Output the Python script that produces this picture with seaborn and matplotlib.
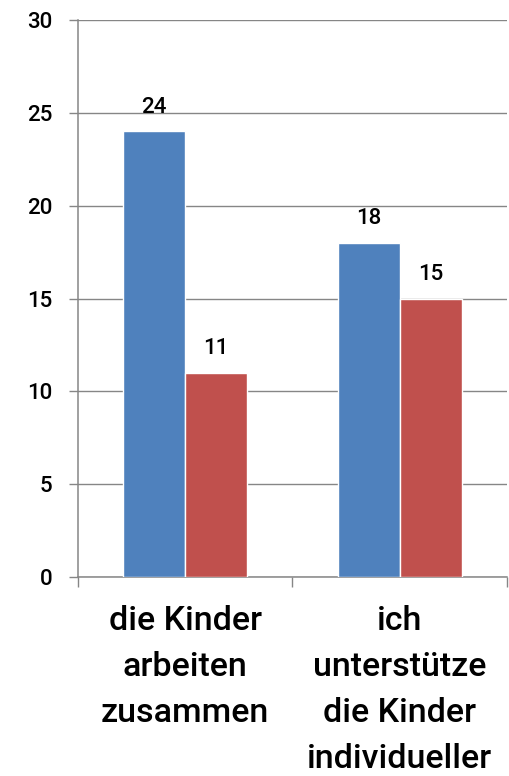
import pandas as pd
import matplotlib.pyplot as plt
import seaborn as sns

# Chart data
categories = ["die Kinder\narbeiten\nzusammen", "ich\nunterstütze\ndie Kinder\nindividueller"]
series_names = ["Reihe 1", "Reihe 2"]
series_1 = [24, 18]
series_2 = [11, 15]
y_ticks = [0, 5, 10, 15, 20, 25, 30]

colors = ["#4F81BD", "#C0504D"]
grey = "#868686"

df = pd.DataFrame({
    "Kategorie": categories * 2,
    "Serie": [series_names[0]] * 2 + [series_names[1]] * 2,
    "Wert": series_1 + series_2,
})

sns.set_style("white")
plt.rcParams["font.family"] = ["Roboto", "Liberation Sans", "DejaVu Sans"]
plt.rcParams["font.weight"] = "medium"
plt.rcParams["text.color"] = "black"
plt.rcParams["xtick.labelcolor"] = "black"
plt.rcParams["ytick.labelcolor"] = "black"

fig = plt.figure(figsize=(5.09, 7.76), dpi=100)
ax = fig.add_axes([0.153, 0.2564, 0.843, 0.7178])

sns.barplot(data=df, x="Kategorie", y="Wert", hue="Serie", palette=colors,
            width=0.577, saturation=1, legend=False, ax=ax, zorder=3)

for cont in ax.containers:
    ax.bar_label(cont, padding=10, fontsize=16, color="black")

# Axis and grid
ax.set_ylim(0, 30)
ax.set_yticks(y_ticks)
ax.set_xlim(-0.5, 1.5)
ax.yaxis.grid(True, color=grey, linewidth=1.0, zorder=0)
ax.set_axisbelow(True)
ax.set_xlabel("")
ax.set_ylabel("")

for side in ["top", "right"]:
    ax.spines[side].set_visible(False)
for side in ["left", "bottom"]:
    ax.spines[side].set_color(grey)
    ax.spines[side].set_linewidth(1.1)

ax.tick_params(axis="y", which="major", length=6.5, width=1.0, color=grey,
               labelsize=16, pad=12, direction="out", left=True)
ax.set_xticks([0, 1])
ax.set_xticklabels(categories, fontsize=24.5, linespacing=1.56)
ax.tick_params(axis="x", which="major", length=0, pad=20)
ax.set_xticks([-0.5, 0.5, 1.5], minor=True)
ax.tick_params(axis="x", which="minor", length=7, width=1.0, color=grey,
               direction="out", bottom=True)

fig.savefig("out.png", dpi=100)
plt.close()
